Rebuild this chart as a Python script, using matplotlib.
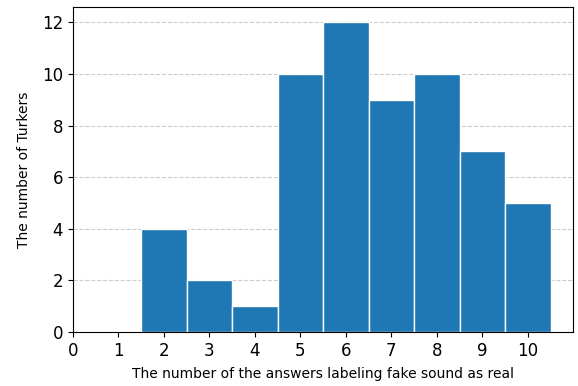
import matplotlib
matplotlib.use("Agg")
import matplotlib.pyplot as plt

answers = [1, 2, 3, 4, 5, 6, 7, 8, 9, 10]
turkers = [0, 4, 2, 1, 10, 12, 9, 10, 7, 5]

fig = plt.figure(figsize=(5.78, 3.86), dpi=100)
ax = fig.add_axes([0.126, 0.14, 0.866, 0.842])

ax.bar(answers, turkers, width=1.0, color="#1f77b4", edgecolor="white", linewidth=1, zorder=2)
ax.grid(axis="y", linestyle="--", color="#cccccc", linewidth=0.8, zorder=0)

ax.set_xlim(0, 11)
ax.set_ylim(0, 12.6)
ax.set_xticks(range(0, 11))
ax.set_yticks(range(0, 13, 2))
ax.tick_params(labelsize=12)

ax.set_xlabel("The number of the answers labeling fake sound as real", fontsize=10, labelpad=5)
ax.set_ylabel("The number of Turkers", fontsize=10, labelpad=8)

fig.savefig("out.png", dpi=100)
